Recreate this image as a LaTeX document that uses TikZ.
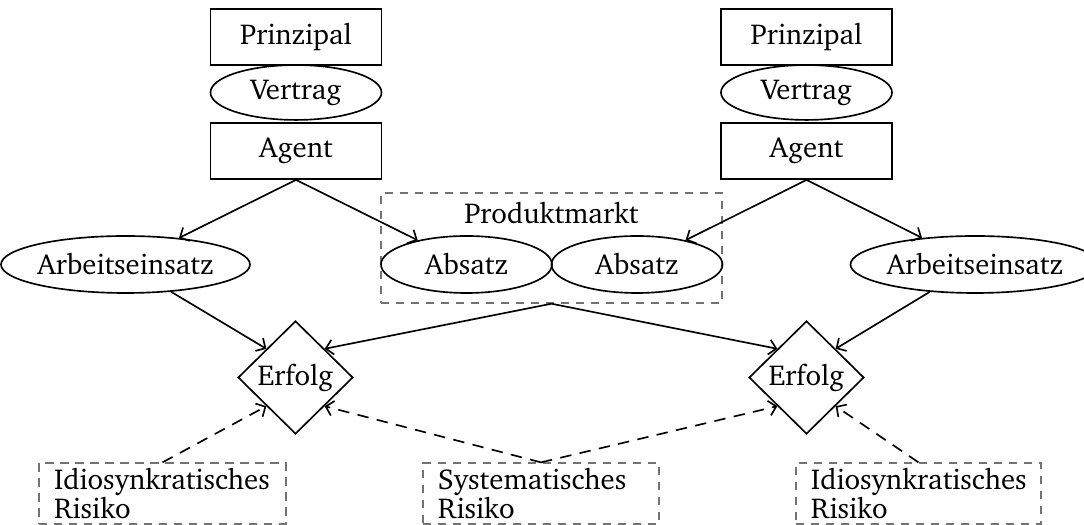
\documentclass[tikz,border=0pt]{standalone}
\usepackage[T1]{fontenc}
\usepackage{charter}
\usetikzlibrary{shapes.geometric,arrows.meta}
\tikzset{
  base/.style={draw, line width=0.55pt, inner sep=0pt, font=\fontsize{9.6}{9.7}\selectfont},
  rbox/.style={base, rectangle, minimum width=57pt, minimum height=18.7pt},
  ell/.style={base, ellipse, minimum height=19pt},
  dia/.style={base, diamond, minimum width=38.3pt, minimum height=37.7pt},
  dbox/.style={base, rectangle, draw=black!55, line width=0.45pt, dash pattern=on 2.8pt off 2.2pt},
  rbottom/.style={dbox, minimum height=20.3pt, align=left, inner xsep=5pt},
  arr/.style={-{Straight Barb[length=2.4pt,width=5pt]}, line width=0.55pt},
  darr/.style={arr, dash pattern=on 3.8pt off 2.8pt},
}
\begin{document}
\begin{tikzpicture}[x=1pt/3, y=-1pt/3]
\useasboundingbox (0,0) rectangle (1084,525);
% left column
\node[rbox] (P1) at (296,37) {Prinzipal};
\node[ell, minimum width=57pt, minimum height=18.3pt] (V1) at (296,92.5) {Vertrag};
\node[rbox] (A1) at (296,151) {Agent};
\node[ell, minimum width=75.7pt] (W1) at (125.5,264.5) {Arbeitseinsatz};
\node[dia] (E1) at (295.5,377.5) {Erfolg};
% right column
\node[rbox] (P2) at (806.5,37) {Prinzipal};
\node[ell, minimum width=57pt, minimum height=18.3pt] (V2) at (806.5,92.5) {Vertrag};
\node[rbox] (A2) at (806.5,151) {Agent};
\node[ell, minimum width=75.7pt] (W2) at (975,264.5) {Arbeitseinsatz};
\node[dia] (E2) at (806.5,377.5) {Erfolg};
% product market
\node[dbox, minimum width=113.7pt, minimum height=36.7pt] (PM) at (551.5,248) {};
\node[inner sep=0pt, font=\fontsize{9.6}{9.7}\selectfont] (PMl) at (551.5,213) {Produktmarkt};
\node[ell, minimum width=57pt] (S1) at (466.5,264.5) {Absatz};
\node[ell, minimum width=57pt] (S2) at (637,264.5) {Absatz};
% risks
\node[rbottom, text width=72.3pt] (I1) at (162.5,493.5) {Idiosynkratisches\\Risiko};
\node[rbottom, text width=68.7pt] (I2) at (541,493.5) {Systematisches\\Risiko};
\node[rbottom, text width=71.7pt] (I3) at (918.5,493.5) {Idiosynkratisches\\Risiko};
% connectors
\draw[arr] (A1.south) -- (W1);
\draw[arr] (A1.south) -- (S1);
\draw[arr] (A2.south) -- (S2);
\draw[arr] (A2.south) -- (W2);
\draw[arr] (W1) -- (E1.north west);
\draw[arr] (W2) -- (E2.north east);
\draw[arr] (PM.south) -- (E1.north east);
\draw[arr] (PM.south) -- (E2.north west);
\draw[darr] (I1.north) -- (E1.south west);
\draw[darr] (I2.north) -- (E1.south east);
\draw[darr] (I2.north) -- (E2.south west);
\draw[darr] (I3.north) -- (E2.south east);
\end{tikzpicture}
\end{document}
